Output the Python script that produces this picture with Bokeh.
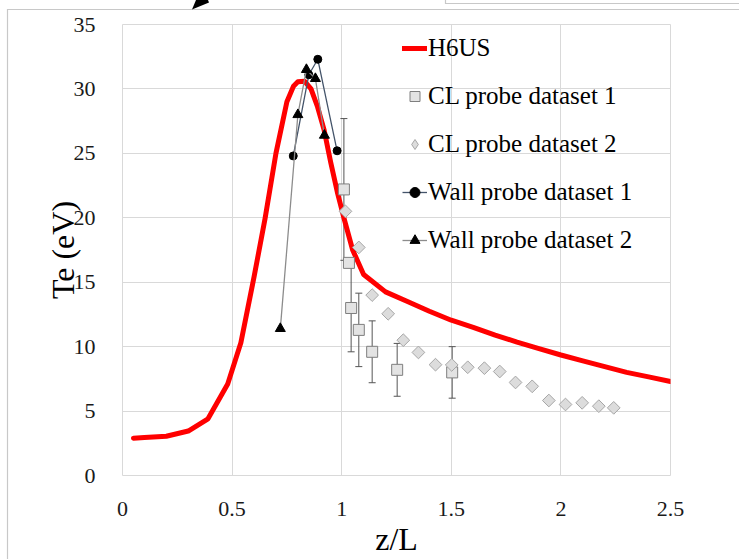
import numpy as np
from urllib.parse import quote
from bokeh.plotting import figure
from bokeh.models import (ColumnDataSource, FixedTicker, Legend, LegendItem,
                          Whisker, TeeHead, Range1d, CustomJSTickFormatter)
from bokeh.embed import file_html
from bokeh.resources import INLINE

# ---------------- data ----------------
h6us_x = [0.05, 0.1, 0.2, 0.3, 0.39, 0.48, 0.54, 0.6, 0.65, 0.7, 0.75, 0.78,
          0.8, 0.83, 0.86, 0.89, 0.92, 0.95, 0.98, 1.01, 1.05, 1.1, 1.2, 1.3,
          1.4, 1.5, 1.6, 1.7, 1.8, 1.9, 2.0, 2.1, 2.2, 2.3, 2.4, 2.5]
h6us_te = [2.9, 2.95, 3.05, 3.45, 4.4, 7.1, 10.3, 15.4, 19.9, 25.0, 29.0, 30.2,
           30.55, 30.6, 30.0, 28.6, 26.8, 24.3, 22.0, 20.0, 17.5, 15.6, 14.25, 13.5,
           12.75, 12.05, 11.5, 10.9, 10.35, 9.85, 9.35, 8.9, 8.45, 8.0, 7.65, 7.3]

cl1_x = [1.01, 1.033, 1.043, 1.078, 1.139, 1.253, 1.504]
cl1_te = [22.2, 16.5, 13.0, 11.3, 9.6, 8.2, 8.0]
cl1_err = [5.5, 0.3, 3.4, 2.85, 2.4, 2.05, 2.0]

cl2_x = [1.017, 1.078, 1.139, 1.212, 1.281, 1.35, 1.428, 1.502, 1.575, 1.651,
         1.721, 1.793, 1.869, 1.945, 2.021, 2.097, 2.173, 2.241]
cl2_te = [20.5, 17.7, 14.0, 12.55, 10.5, 9.55, 8.6, 8.58, 8.4, 8.33,
          8.07, 7.22, 6.92, 5.82, 5.51, 5.64, 5.38, 5.25]

wall1_x = [0.779, 0.85, 0.891, 0.979]
wall1_te = [24.8, 31.1, 32.3, 25.2]

wall2_x = [0.72, 0.80, 0.839, 0.88, 0.921]
wall2_te = [11.4, 28.0, 31.5, 30.8, 26.4]

x_ticks = [0, 0.5, 1, 1.5, 2, 2.5]
x_tick_labels = ["0", "0.5", "1", "1.5", "2", "2.5"]
y_ticks = [0, 5, 10, 15, 20, 25, 30, 35]
y_tick_labels = ["0", "5", "10", "15", "20", "25", "30", "35"]

series_names = ["H6US", "CL probe dataset 1", "CL probe dataset 2",
                "Wall probe dataset 1", "Wall probe dataset 2"]

# ---------------- figure ----------------
FONT = "Liberation Serif"
p = figure(width=739, height=559, output_backend="svg", toolbar_location=None,
           x_range=Range1d(0, 2.5), y_range=Range1d(0, 35),
           min_border_left=122, min_border_right=69, min_border_top=24,
           min_border_bottom=79)
p.background_fill_color = "white"
p.border_fill_color = "white"
p.border_fill_alpha = 0
p.outline_line_color = "#D9D9D9"

# decorations of the source page (frame edge, neighbouring box, arrow tip)
page_svg = ("<svg xmlns='http://www.w3.org/2000/svg' width='739' height='559'>"
            "<path d='M7.5 559 V9.5 H739' fill='none' stroke='rgb(200,200,200)' stroke-width='1.2'/>"
            "<path d='M445.5 0 V3.5 H739' fill='none' stroke='rgb(200,200,200)' stroke-width='1.2'/>"
            "<polygon points='192,9.5 209,2.5 208,0 196,0' fill='black'/>"
            "</svg>")
p.styles = {"background-color": "white",
            "background-image": 'url("data:image/svg+xml,' + quote(page_svg) + '")',
            "background-repeat": "no-repeat"}

tick_js = """
const i = tvals.indexOf(tick);
return i >= 0 ? tlabels[i] : String(tick);
"""
p.xaxis.ticker = FixedTicker(ticks=x_ticks)
p.yaxis.ticker = FixedTicker(ticks=y_ticks)
p.xaxis.formatter = CustomJSTickFormatter(args=dict(tvals=x_ticks, tlabels=x_tick_labels), code=tick_js)
p.yaxis.formatter = CustomJSTickFormatter(args=dict(tvals=y_ticks, tlabels=y_tick_labels), code=tick_js)
for ax in (p.xaxis[0], p.yaxis[0]):
    ax.axis_line_color = None
    ax.major_tick_line_color = None
    ax.minor_tick_line_color = None
    ax.major_label_text_font = FONT
    ax.major_label_text_font_size = "22px"
    ax.major_label_text_color = "#1A1A1A"
    ax.axis_label_text_font = FONT
    ax.axis_label_text_font_style = "normal"
    ax.axis_label_text_font_size = "32px"
    ax.axis_label_text_color = "black"
p.xaxis.axis_label = "z/L"
p.yaxis.axis_label = "Te (eV)"
p.xaxis.major_label_standoff = 20
p.xaxis.axis_label_standoff = 2
p.yaxis.major_label_standoff = 21
p.yaxis.axis_label_standoff = -10

p.xgrid.grid_line_color = "#D9D9D9"
p.ygrid.grid_line_color = "#D9D9D9"

# ---------------- series ----------------
r_h6 = p.line(h6us_x, h6us_te, line_color="#FF0000", line_width=5,
              line_join="round", line_cap="round")

cl1_src = ColumnDataSource(dict(x=cl1_x, te=cl1_te,
                                lo=[t - e for t, e in zip(cl1_te, cl1_err)],
                                hi=[t + e for t, e in zip(cl1_te, cl1_err)]))
wh = Whisker(source=cl1_src, base="x", upper="hi", lower="lo",
             line_color="#555555", line_width=1,
             upper_head=TeeHead(size=7, line_color="#555555", line_width=1),
             lower_head=TeeHead(size=7, line_color="#555555", line_width=1))
p.add_layout(wh)
r_cl1 = p.scatter("x", "te", source=cl1_src, marker="square", size=11,
                  fill_color="#E3E3E3", line_color="#7F7F7F", line_width=1)

r_cl2 = p.scatter(cl2_x, cl2_te, marker="square", angle=np.pi / 4, size=9,
                  fill_color="#DCDCDC", line_color="#A6A6A6", line_width=1)
# legend proxy: the legend does not rotate markers, so show a diamond there
r_cl2_leg = p.scatter(cl2_x, cl2_te, marker="diamond", size=0,
                      fill_color="#DCDCDC", line_color="#A6A6A6", line_width=1)

r_w1l = p.line(wall1_x, wall1_te, line_color="#44546A", line_width=1.3)
r_w1m = p.scatter(wall1_x, wall1_te, marker="circle", size=8,
                  fill_color="black", line_color="black")

r_w2l = p.line(wall2_x, wall2_te, line_color="#8C8C8C", line_width=1.3)
r_w2m = p.scatter(wall2_x, wall2_te, marker="triangle", size=10,
                  fill_color="black", line_color="black")

legend = Legend(items=[
    LegendItem(label=series_names[0], renderers=[r_h6]),
    LegendItem(label=series_names[1], renderers=[r_cl1]),
    LegendItem(label=series_names[2], renderers=[r_cl2_leg]),
    LegendItem(label=series_names[3], renderers=[r_w1l, r_w1m]),
    LegendItem(label=series_names[4], renderers=[r_w2l, r_w2m]),
], location=(280, 221))
legend.label_text_font = FONT
legend.label_text_font_size = "25px"
legend.label_text_color = "black"
legend.label_height = 28
legend.glyph_height = 28
legend.glyph_width = 25
legend.spacing = 20
legend.label_standoff = 1
legend.padding = 0
legend.margin = 0
legend.background_fill_alpha = 0
legend.border_line_color = None
p.add_layout(legend)

open("out.html", "w").write(file_html(p, INLINE))
